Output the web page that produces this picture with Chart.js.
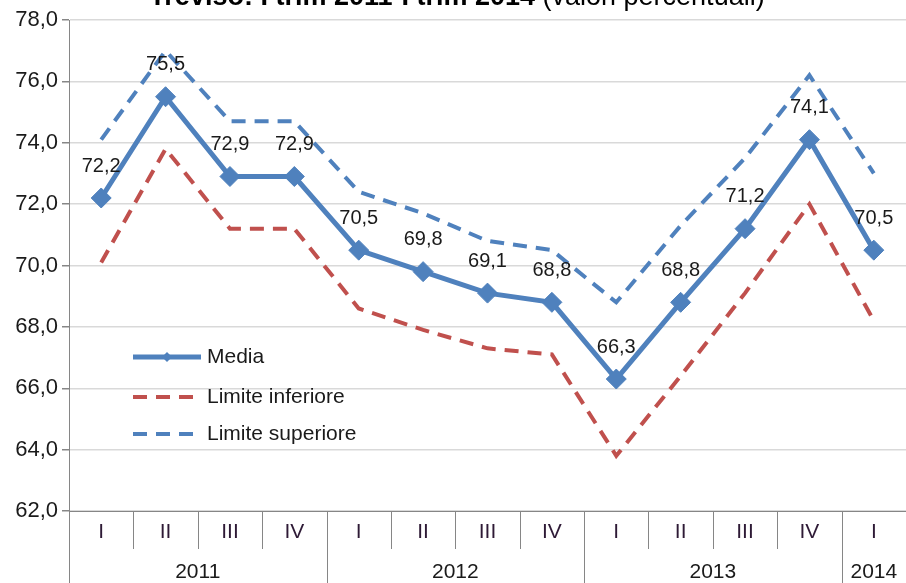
<!DOCTYPE html>
<html>
<head>
<meta charset="utf-8">
<style>
  html, body { margin: 0; padding: 0; background: #ffffff; }
  #wrap { position: relative; width: 906px; height: 583px; }
</style>
<script src="https://cdn.jsdelivr.net/npm/chart.js@4/dist/chart.umd.min.js"></script>
</head>
<body>
<div id="wrap"><canvas id="c" width="906" height="583"></canvas></div>
<script>
// ---- data ----
const quarters = ['I', 'II', 'III', 'IV', 'I', 'II', 'III', 'IV', 'I', 'II', 'III', 'IV', 'I'];
const years = ['2011', '2012', '2013', '2014'];
const yearSpans = [4, 4, 4, 1];
const media = [72.2, 75.5, 72.9, 72.9, 70.5, 69.8, 69.1, 68.8, 66.3, 68.8, 71.2, 74.1, 70.5];
const limiteInferiore = [70.1, 73.8, 71.2, 71.2, 68.6, 67.9, 67.3, 67.1, 63.8, 66.4, 69.1, 72.0, 68.2];
const limiteSuperiore = [74.1, 77.0, 74.7, 74.7, 72.4, 71.7, 70.8, 70.5, 68.8, 71.3, 73.5, 76.2, 73.0];
const yMin = 62, yMax = 78, yStep = 2;
const titleBold = 'Treviso: I trim 2011-I trim 2014';
const titleNormal = ' (valori percentuali)';

const FONT = '"Liberation Sans", Arial, sans-serif';
const TEXT = '#1a1a1a';
const AXIS = '#868686';
const BLUE = '#4F81BD';
const RED = '#C0504D';
const YTICK_FONT = 22;
const AXIS_FONT = 21;
const LABEL_FONT = 20;
const LEGEND_FONT = 21;

const fmt = v => v.toFixed(1).replace('.', ',');

const titlePlugin = {
  id: 'titlePlugin',
  afterDraw(chart) {
    const ctx = chart.ctx;
    ctx.save();
    ctx.textBaseline = 'alphabetic';
    ctx.font = 'bold 27px ' + FONT;
    const wb = ctx.measureText(titleBold).width;
    ctx.font = '27px ' + FONT;
    const wn = ctx.measureText(titleNormal).width;
    const x0 = 457 - (wb + wn) / 2;
    ctx.fillStyle = '#000';
    ctx.textAlign = 'left';
    ctx.font = 'bold 27px ' + FONT;
    ctx.fillText(titleBold, x0, 5);
    ctx.font = '27px ' + FONT;
    ctx.fillText(titleNormal, x0 + wb, 5);
    ctx.restore();
  }
};

const xAxisPlugin = {
  id: 'xAxisPlugin',
  afterDraw(chart) {
    const ctx = chart.ctx;
    const xs = chart.scales.x;
    const area = chart.chartArea;
    const n = quarters.length;
    const half = (xs.getPixelForValue(1) - xs.getPixelForValue(0)) / 2;
    ctx.save();
    ctx.strokeStyle = AXIS;
    ctx.lineWidth = 1;
    const yearStarts = [];
    let acc = 0;
    yearSpans.forEach(s => { yearStarts.push(acc); acc += s; });
    for (let i = 0; i <= n; i++) {
      const x = Math.round((i < n ? xs.getPixelForValue(i) - half : xs.getPixelForValue(n - 1) + half)) + 0.5;
      const isYear = yearStarts.includes(i) || i === n;
      ctx.beginPath();
      ctx.moveTo(x, area.bottom);
      ctx.lineTo(x, isYear ? chart.height : area.bottom + 38);
      ctx.stroke();
    }
    ctx.fillStyle = TEXT;
    ctx.textAlign = 'center';
    ctx.textBaseline = 'middle';
    ctx.font = AXIS_FONT + 'px ' + FONT;
    quarters.forEach((q, i) => {
      ctx.fillStyle = '#2e1a36';
      ctx.fillText(q, xs.getPixelForValue(i), area.bottom + 21);
    });
    ctx.fillStyle = TEXT;
    years.forEach((yr, k) => {
      const a = yearStarts[k], b = a + yearSpans[k] - 1;
      const cx = (xs.getPixelForValue(a) + xs.getPixelForValue(b)) / 2;
      ctx.fillText(yr, cx, area.bottom + 61);
    });
    ctx.restore();
  }
};

const labelPlugin = {
  id: 'labelPlugin',
  afterDatasetsDraw(chart) {
    const ctx = chart.ctx;
    const meta = chart.getDatasetMeta(0);
    ctx.save();
    ctx.font = LABEL_FONT + 'px ' + FONT;
    ctx.fillStyle = TEXT;
    ctx.textAlign = 'center';
    ctx.textBaseline = 'middle';
    meta.data.forEach((pt, i) => {
      ctx.fillText(fmt(media[i]), pt.x, pt.y - 32);
    });
    ctx.restore();
  }
};

const legendPlugin = {
  id: 'legendPlugin',
  afterDraw(chart) {
    const ctx = chart.ctx;
    const items = chart.data.datasets;
    const x0 = 133, x1 = 201, tx = 207;
    const ys = [357, 397, 434];
    ctx.save();
    items.forEach((ds, i) => {
      const y = ys[i];
      ctx.strokeStyle = ds.borderColor;
      ctx.lineWidth = ds.borderWidth;
      ctx.setLineDash(ds.borderDash || []);
      ctx.lineCap = 'butt';
      ctx.beginPath();
      ctx.moveTo(x0, y);
      ctx.lineTo(x1, y);
      ctx.stroke();
      ctx.setLineDash([]);
      if (ds.pointRadius > 0) {
        ctx.fillStyle = ds.pointBackgroundColor;
        ctx.beginPath();
        const r = 5;
        const cx = (x0 + x1) / 2;
        ctx.moveTo(cx, y - r); ctx.lineTo(cx + r, y); ctx.lineTo(cx, y + r); ctx.lineTo(cx - r, y);
        ctx.closePath();
        ctx.fill();
      }
      ctx.fillStyle = TEXT;
      ctx.font = LEGEND_FONT + 'px ' + FONT;
      ctx.textAlign = 'left';
      ctx.textBaseline = 'middle';
      ctx.fillText(ds.label, tx, y);
    });
    ctx.restore();
  }
};

new Chart(document.getElementById('c'), {
  type: 'line',
  data: {
    labels: quarters,
    datasets: [
      {
        label: 'Media',
        data: media,
        borderColor: BLUE,
        backgroundColor: BLUE,
        borderWidth: 5,
        pointStyle: 'rectRot',
        pointRadius: 10,
        pointBackgroundColor: BLUE,
        pointBorderColor: BLUE,
        pointBorderWidth: 1,
        tension: 0
      },
      {
        label: 'Limite inferiore',
        data: limiteInferiore,
        borderColor: RED,
        backgroundColor: RED,
        borderWidth: 4,
        borderDash: [14, 9],
        pointRadius: 0,
        tension: 0
      },
      {
        label: 'Limite superiore',
        data: limiteSuperiore,
        borderColor: BLUE,
        backgroundColor: BLUE,
        borderWidth: 4,
        borderDash: [14, 9],
        pointRadius: 0,
        tension: 0
      }
    ]
  },
  options: {
    responsive: false,
    animation: false,
    devicePixelRatio: 1,
    layout: { autoPadding: false, padding: { top: 20, right: 0, left: 0, bottom: 0 } },
    plugins: {
      legend: { display: false },
      title: { display: false },
      tooltip: { enabled: false }
    },
    scales: {
      x: {
        type: 'category',
        offset: true,
        grid: { display: false, drawTicks: false },
        border: { display: true, color: AXIS, width: 1 },
        ticks: { display: false },
        afterFit(scale) { scale.height = 72; scale.paddingLeft = 0; scale.paddingRight = 0; }
      },
      y: {
        min: yMin,
        max: yMax,
        afterBuildTicks(scale) {
          const t = [];
          for (let v = yMin; v <= yMax + 1e-9; v += yStep) t.push({ value: v });
          scale.ticks = t;
        },
        grid: { color: '#d9d9d9', lineWidth: 1.5, tickColor: AXIS, tickLength: 7, drawTicks: true },
        border: { display: true, color: AXIS, width: 1 },
        ticks: {
          padding: 4,
          color: TEXT,
          font: { family: FONT, size: YTICK_FONT },
          callback: v => fmt(v)
        },
        afterFit(scale) { scale.width = 69; scale.paddingTop = 0; scale.paddingBottom = 0; }
      }
    }
  },
  plugins: [titlePlugin, xAxisPlugin, labelPlugin, legendPlugin]
});
</script>
</body>
</html>
